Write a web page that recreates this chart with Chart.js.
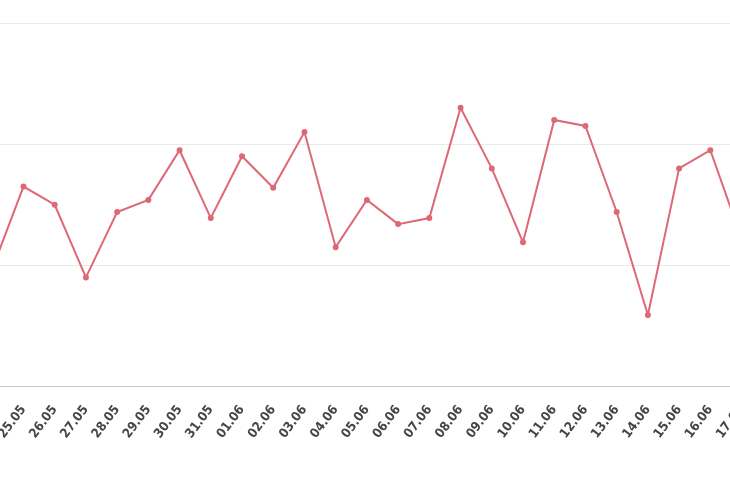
<!DOCTYPE html>
<html>
<head>
<meta charset="utf-8">
<script src="https://cdn.jsdelivr.net/npm/chart.js@4.4.1/dist/chart.umd.min.js"></script>
<style>
  html, body { margin: 0; padding: 0; background: #ffffff; overflow: hidden; }
  body { width: 730px; height: 500px; position: relative; }
  #wrap { position: absolute; left: -46.5px; top: 18.5px; width: 816px; height: 438.4px; }
</style>
</head>
<body>
<div id="wrap"><canvas id="c"></canvas></div>
<script>
const categories = ["24.05","25.05","26.05","27.05","28.05","29.05","30.05","31.05",
  "01.06","02.06","03.06","04.06","05.06","06.06","07.06","08.06","09.06","10.06",
  "11.06","12.06","13.06","14.06","15.06","16.06","17.06"];
const seriesValues = [9.7,16.5,15.0,9.0,14.4,15.4,19.5,13.9,
  19.0,16.4,21.0,11.5,15.4,13.4,13.9,23.0,18.0,11.9,
  22.0,21.5,14.4,5.9,18.0,19.5,12.2];
const yTicks = [0,10,20,30];

const lineColor = 'rgb(221,104,118)';
const chart = new Chart(document.getElementById('c'), {
  type: 'line',
  data: {
    labels: categories,
    datasets: [{
      data: seriesValues,
      borderColor: lineColor,
      backgroundColor: lineColor,
      borderWidth: 2,
      pointRadius: 2,
      pointHoverRadius: 2,
      tension: 0,
      fill: false
    }]
  },
  options: {
    responsive: true,
    maintainAspectRatio: false,
    animation: false,
    layout: { padding: 0 },
    plugins: { legend: { display: false }, tooltip: { enabled: false } },
    scales: {
      x: {
        offset: false,
        grid: { display: false, drawTicks: false },
        border: { display: true, color: '#c8c8c8', width: 1 },
        ticks: {
          autoSkip: false,
          maxRotation: 53,
          minRotation: 53,
          padding: 16,
          color: '#454545',
          font: { family: '"DejaVu Sans Condensed", "DejaVu Sans"', size: 13, weight: 'bold' }
        }
      },
      y: {
        min: yTicks[0],
        max: yTicks[yTicks.length - 1],
        afterBuildTicks: (s) => { s.ticks = yTicks.map(v => ({ value: v })); },
        grid: { color: '#e9e9e9', drawTicks: false },
        border: { display: false },
        ticks: { display: false }
      }
    }
  }
});
</script>
</body>
</html>
